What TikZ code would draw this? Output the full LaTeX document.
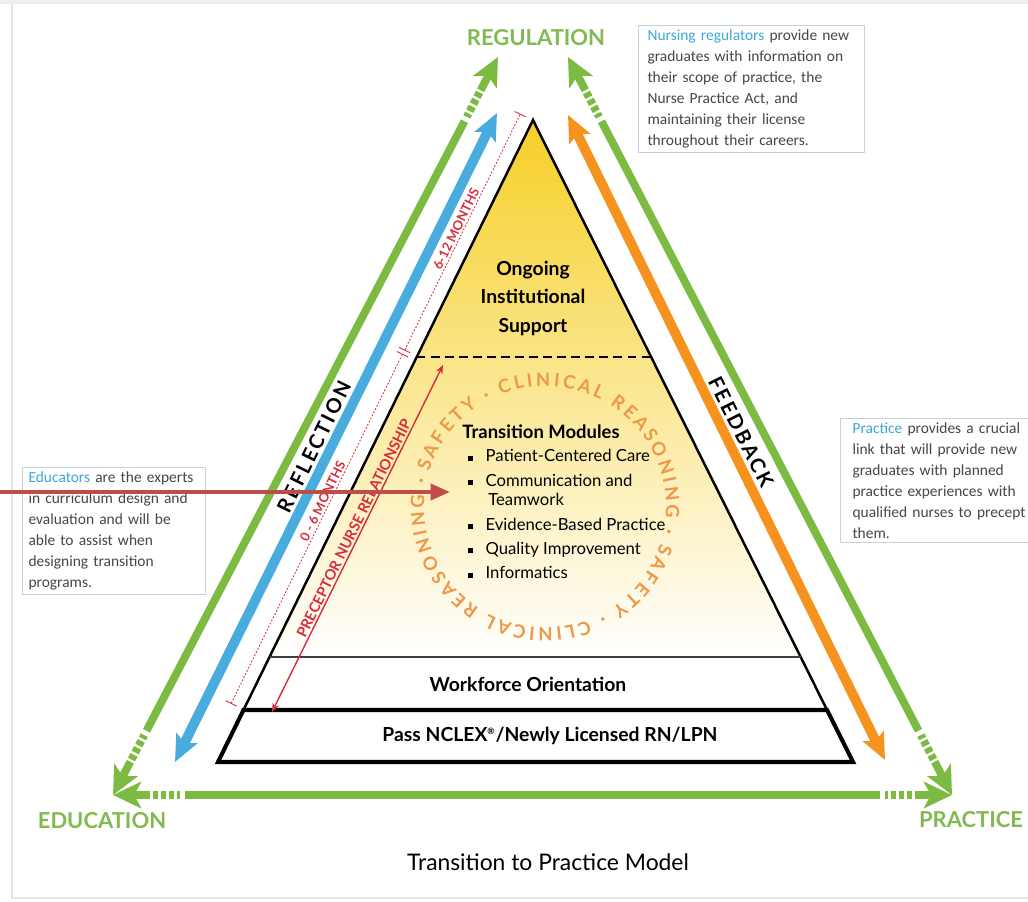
\documentclass[tikz,border=0pt]{standalone}
\usepackage{fontspec}
\setmainfont{Lato}
\newfontfamily\boxfont{Carlito}
\newfontfamily\spacedfont[LetterSpace=12]{Lato}
\usetikzlibrary{arrows.meta,calc,decorations.text}

\definecolor{modelgreen}{RGB}{124,187,66}
\definecolor{labelgreen}{RGB}{130,186,80}
\definecolor{reflblue}{RGB}{72,172,222}
\definecolor{feedorange}{RGB}{246,146,30}
\definecolor{dimred}{RGB}{214,45,60}
\definecolor{pointred}{RGB}{190,76,72}
\definecolor{ringorange}{RGB}{238,152,72}
\definecolor{noteblue}{RGB}{60,168,216}
\definecolor{notetext}{RGB}{70,70,70}
\definecolor{noteline}{RGB}{200,208,216}
\definecolor{topyellow}{RGB}{246,207,38}
\definecolor{midyellow}{RGB}{251,231,118}

\newcommand\sqbul{\rule[0.6pt]{2.8pt}{2.8pt}}
\newcommand\ringtype{\bfseries\fontsize{10.5}{12}\selectfont}

\tikzset{
  greenline/.style={draw=modelgreen, line width=4.5pt},
  greenhead/.style={greenline, -{Stealth[length=16pt, width=15pt, inset=4pt]}},
  bigarrow/.style={line width=5.6pt, {Stealth[length=15pt, width=13pt, inset=3pt]}-{Stealth[length=15pt, width=13pt, inset=3pt]}},
  dimline/.style={draw=dimred, line width=0.5pt, dash pattern=on 1pt off 1pt, {Bar[width=7pt]}-{Bar[width=7pt]}},
  dimtext/.style={text=dimred, font=\bfseries\fontsize{7.4}{9}\selectfont, inner sep=1pt},
  cornerlabel/.style={text=labelgreen, font=\bfseries\fontsize{12.5}{15}\selectfont},
  layertext/.style={font=\bfseries\fontsize{11}{16.2}\selectfont, align=center},
  sidelabel/.style={font=\spacedfont\bfseries\fontsize{11.5}{14}\selectfont},
  infobox/.style={draw=noteline, line width=0.6pt, fill=white, align=left, anchor=north west,
    inner ysep=2.5pt, text=notetext, font=\boxfont\fontsize{8.8}{11.9}\selectfont}
}

\begin{document}
\begin{tikzpicture}[x=0.02cm, y=-0.02cm]
  \useasboundingbox (0,0) rectangle (1028,902);
  \clip (0,0) rectangle (1028,902);
  \fill[white] (0,0) rectangle (1028,902);
  \fill[black!7] (0,0) rectangle (1028,4);
  \draw[black!10, line width=1.5pt] (12,4) -- (12,898) -- (1028,898);

  % pyramid corners
  \coordinate (apex) at (533,120);
  \coordinate (pyr-bl) at (218,762);
  \coordinate (pyr-br) at (853,762);
  \coordinate (dash-l) at (416.7,357);
  \coordinate (dash-r) at (651,357);
  \coordinate (work-l) at (269.5,657);
  \coordinate (work-r) at (800.6,657);
  \coordinate (ncl-l) at (243.5,710);
  \coordinate (ncl-r) at (827.1,710);

  \shade[top color=topyellow, middle color=midyellow, bottom color=white] (apex) -- (work-l) -- (work-r) -- cycle;
  \draw[line width=1.4pt] (pyr-bl) -- (apex) -- (pyr-br);
  \draw[black!75, line width=1pt] (work-l) -- (work-r);
  \draw[line width=0.8pt, dash pattern=on 5pt off 3pt] (dash-l) -- (dash-r);
  \draw[line width=2.3pt, line join=miter] (ncl-l) -- (ncl-r) -- (pyr-br) -- (pyr-bl) -- cycle;

  % ring of words
  \coordinate (ringc) at (545,507);
  \path[decorate, decoration={text along path, text align=fit to path, text color=ringorange,
      text={|\ringtype|SAFETY · CLINICAL REASONING · SAFETY · CLINICAL REASONING ·}}]
    (ringc) ++(163:2.42cm) arc[start angle=163, end angle=-193, radius=2.42cm];

  % layer texts
  \node[layertext] (support) at (533,298) {Ongoing\\Institutional\\Support};
  \node[font=\bfseries\fontsize{10.5}{12}\selectfont] (modules) at (541,432) {Transition Modules};
  \node[anchor=north west, inner sep=0pt, font=\fontsize{9.5}{11}\selectfont] (modlist) at (468,448) {%
    \begin{tabular}{@{}l@{\hspace{7pt}}l@{}}
      \sqbul & Patient-Centered Care\\[2.9pt]
      \sqbul & Communication and\\
             & \,Teamwork\\[2.9pt]
      \sqbul & Evidence-Based Practice\\[2.9pt]
      \sqbul & Quality Improvement\\[2.9pt]
      \sqbul & Informatics
    \end{tabular}};
  \node[layertext] (workforce) at (528,684) {Workforce Orientation};
  \node[layertext] (nclex) at (550,736) {Pass NCLEX\textsuperscript{\tiny ®}/Newly Licensed RN/LPN};

  % months and preceptor
  \coordinate (m0-bot) at (231,703.8);
  \coordinate (m0-top) at (402.6,353.8);
  \coordinate (m6-bot) at (404.5,350.5);
  \coordinate (m6-top) at (520.4,113.8);
  \draw[dimline] (m0-bot) -- node[dimtext, pos=0.57, above, sloped] {0 - 6 MONTHS} (m0-top);
  \draw[dimline] (m6-bot) -- node[dimtext, midway, above, sloped] {6-12 MONTHS} (m6-top);
  \coordinate (prec-bot) at (272,712);
  \coordinate (prec-top) at (443,365);
  \draw[dimred, line width=0.8pt, {Stealth[length=5pt, width=4pt]}-{Stealth[length=5pt, width=4pt]}]
    (prec-bot) -- node[dimtext, font=\bfseries\fontsize{8.3}{10}\selectfont, pos=0.52, above, sloped] {PRECEPTOR NURSE RELATIONSHIP} (prec-top);

  % blue and orange arrows
  \coordinate (blue-bot) at (175,762);
  \coordinate (blue-top) at (497,113);
  \coordinate (orange-top) at (568,115);
  \coordinate (orange-bot) at (885,760);
  \draw[bigarrow, draw=reflblue, fill=reflblue] (blue-bot) -- (blue-top);
  \draw[bigarrow, draw=feedorange, fill=feedorange] (orange-top) -- (orange-bot);
  \node[sidelabel, rotate=63.9] (reflection) at (314,447) {REFLECTION};
  \node[sidelabel, rotate=-63.5] (feedback) at (741,432) {FEEDBACK};

  % green triangle
  \coordinate (edu) at (113,795);
  \coordinate (regl) at (498,57);
  \coordinate (regr) at (568,57);
  \coordinate (pra) at (952,795);
  \foreach \p/\q in {edu/regl, regl/edu, regr/pra, pra/regr, edu/pra, pra/edu} {
    \draw[greenhead, fill=modelgreen] ($(\p)!0.75cm!(\q)$) -- (\p);
    \draw[greenline, dash pattern=on 3pt off 1.5pt] ($(\p)!0.8cm!(\q)$) -- ($(\p)!1.35cm!(\q)$);
  }
  \draw[greenline] ($(edu)!1.45cm!(regl)$) -- ($(regl)!1.45cm!(edu)$);
  \draw[greenline] ($(regr)!1.45cm!(pra)$) -- ($(pra)!1.45cm!(regr)$);
  \draw[greenline] ($(edu)!1.45cm!(pra)$) -- ($(pra)!1.45cm!(edu)$);

  \node[cornerlabel] (regulation) at (536,38) {REGULATION};
  \node[cornerlabel] (education) at (102,821) {EDUCATION};
  \node[cornerlabel] (practice) at (971,820) {PRACTICE};

  % notes
  \node[infobox, text width=4.16cm, inner xsep=0.18cm] (regnote) at (638,25) {%
    {\color{noteblue}Nursing regulators} provide new\\ graduates with information on\\ their scope of practice, the\\
    Nurse Practice Act, and\\ maintaining their license\\ throughout their careers.};
  \node[infobox, text width=4.3cm, inner xsep=0.24cm] (pranote) at (840,418) {%
    {\color{noteblue}Practice} provides a crucial\\ link that will provide new\\ graduates with planned\\
    practice experiences with\\ qualified nurses to precept\\ them.};
  \node[infobox, text width=3.42cm, inner xsep=0.12cm] (edunote) at (22,467) {%
    {\color{noteblue}Educators} are the experts\\ in curriculum design and\\ evaluation and will be\\
    able to assist when\\ designing transition\\ programs.};

  \coordinate (ptr-start) at (0,492);
  \coordinate (ptr-end) at (450,492);
  \draw[pointred, line width=2.3pt, -{Triangle[length=11pt, width=9pt]}] (ptr-start) -- (ptr-end);

  \node[font=\fontsize{13}{15}\selectfont] (title) at (548,862) {Transition to Practice Model};
\end{tikzpicture}
\end{document}
